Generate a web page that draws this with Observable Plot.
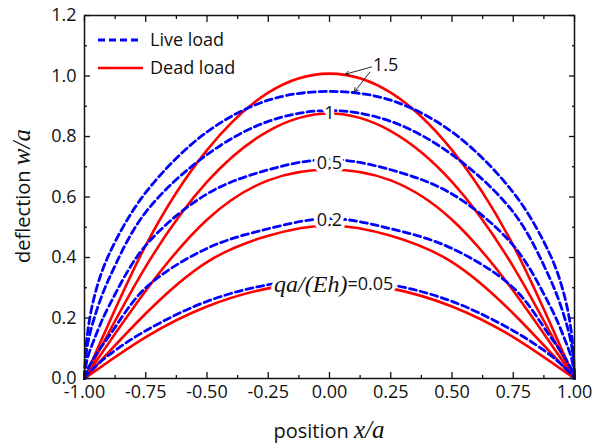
<!DOCTYPE html>
<html><head><meta charset="utf-8">
<script src="https://cdn.jsdelivr.net/npm/d3@7"></script>
<script src="https://cdn.jsdelivr.net/npm/@observablehq/plot@0.6"></script>
<style>
body{margin:0;background:#fff}
#chart{position:relative;width:605px;height:448px}
</style>
</head><body><div id="chart"></div>
<script>
// sample positions x/a
const xLive = [-1, -0.99, -0.96, -0.9, -0.75, -0.5, -0.25, 0, 0.25, 0.5, 0.75, 0.9, 0.96, 0.99, 1];
const xDead = [-1, -0.75, -0.5, -0.25, 0, 0.25, 0.5, 0.75, 1];

// Live load (blue dashed)
const live_1_5  = [0, 0.134, 0.27, 0.41, 0.615, 0.815, 0.92, 0.949, 0.92, 0.815, 0.615, 0.41, 0.27, 0.134, 0];
const live_1    = [0, 0.10, 0.20, 0.33, 0.55, 0.74, 0.85, 0.886, 0.85, 0.74, 0.55, 0.33, 0.20, 0.10, 0];
const live_0_5  = [0, 0.06, 0.13, 0.24, 0.44, 0.61, 0.69, 0.724, 0.69, 0.61, 0.44, 0.24, 0.13, 0.06, 0];
const live_0_2  = [0, 0.025, 0.07, 0.14, 0.30, 0.43, 0.495, 0.529, 0.495, 0.43, 0.30, 0.14, 0.07, 0.025, 0];
const live_0_05 = [0, 0.012, 0.036, 0.078, 0.158, 0.255, 0.31, 0.328, 0.31, 0.255, 0.158, 0.078, 0.036, 0.012, 0];

// Dead load (red solid)
const dead_1_5  = [0, 0.44, 0.755, 0.945, 1.008, 0.945, 0.755, 0.44, 0];
const dead_1    = [0, 0.37, 0.65, 0.818, 0.876, 0.818, 0.65, 0.37, 0];
const dead_0_5  = [0, 0.29, 0.525, 0.655, 0.691, 0.655, 0.525, 0.29, 0];
const dead_0_2  = [0, 0.215, 0.385, 0.472, 0.506, 0.472, 0.385, 0.215, 0];
const dead_0_05 = [0, 0.137, 0.238, 0.298, 0.318, 0.298, 0.238, 0.137, 0];

// ticks
const xTicks = [-1, -0.75, -0.5, -0.25, 0, 0.25, 0.5, 0.75, 1];
const xMinor = [-0.875, -0.625, -0.375, -0.125, 0.125, 0.375, 0.625, 0.875];
const yTicks = [0, 0.2, 0.4, 0.6, 0.8, 1.0, 1.2];
const yMinor = [0.1, 0.3, 0.5, 0.7, 0.9, 1.1];

// annotations (data units)
const levelLabels = [
  {x: 0, y: 0.878, text: "1"},
  {x: 0, y: 0.711, text: "0.5"},
  {x: 0, y: 0.522, text: "0.2"}
];
const topLabel = [{x: 0.229, y: 1.035, text: "1.5"}];
const arrows = [
  {x1: 0.172, y1: 1.030, x2: 0.065, y2: 1.006},
  {x1: 0.165, y1: 1.013, x2: 0.102, y2: 0.948}
];
const eqLabel = [{x: 0.073, y: 0.312, lhs: "qa/(Eh)", rhs: "=0.05"}];

const liveDefs = [["1.5", live_1_5], ["1", live_1], ["0.5", live_0_5], ["0.2", live_0_2], ["0.05", live_0_05]];
const deadDefs = [["1.5", dead_1_5], ["1", dead_1], ["0.5", dead_0_5], ["0.2", dead_0_2], ["0.05", dead_0_05]];
const liveRows = [], deadRows = [];
for (const [level, vals] of liveDefs) vals.forEach((v, i) => liveRows.push({level, x: xLive[i], y: v}));
for (const [level, vals] of deadDefs) vals.forEach((v, i) => deadRows.push({level, x: xDead[i], y: v}));

const FONT = "Open Sans, sans-serif";
const SERIF = "Liberation Serif, DejaVu Serif, serif";
const INK = "#111";
const blank = () => "";
const halo = {fill: "white", stroke: "white", strokeWidth: 7, strokeLinejoin: "round"};

const plot = Plot.plot({
  width: 605, height: 448,
  marginLeft: 84, marginRight: 31, marginTop: 15, marginBottom: 70,
  style: {fontFamily: FONT, fontSize: "18px", color: INK, background: "#fff"},
  x: {domain: [-1, 1], label: null},
  y: {domain: [0, 1.2], label: null},
  marks: [
    Plot.line(deadRows, {x: "x", y: "y", z: "level", stroke: "#ff0000", strokeWidth: 2.6, curve: "natural"}),
    Plot.line(liveRows, {x: "x", y: "y", z: "level", stroke: "#0000ff", strokeWidth: 2.8, strokeDasharray: "7,4", curve: "catmull-rom"}),
    // white knock-outs behind the curve labels
    Plot.text(levelLabels, {x: "x", y: "y", text: "text", fontSize: 18, ...halo}),
    Plot.text(eqLabel, {x: "x", y: "y", text: "lhs", textAnchor: "end", fontSize: 24, fontStyle: "italic", fontFamily: SERIF, ...halo}),
    Plot.text(eqLabel, {x: "x", y: "y", text: "rhs", textAnchor: "start", fontSize: 18, ...halo}),
    // labels
    Plot.text(levelLabels, {x: "x", y: "y", text: "text", fill: INK, fontSize: 18}),
    Plot.text(eqLabel, {x: "x", y: "y", text: "lhs", textAnchor: "end", fill: INK, fontSize: 24, fontStyle: "italic", fontFamily: SERIF}),
    Plot.text(eqLabel, {x: "x", y: "y", text: "rhs", textAnchor: "start", fill: INK, fontSize: 18}),
    Plot.text(topLabel, {x: "x", y: "y", text: "text", fill: INK, fontSize: 18}),
    Plot.arrow(arrows, {x1: "x1", y1: "y1", x2: "x2", y2: "y2", stroke: INK, strokeWidth: 0.9, headLength: 7}),
    // inward ticks, all four sides
    Plot.axisX(xTicks, {anchor: "bottom", tickSize: -6, tickFormat: blank, strokeWidth: 1.3}),
    Plot.axisX(xMinor, {anchor: "bottom", tickSize: -3, tickFormat: blank, strokeWidth: 1.3}),
    Plot.axisX(xTicks, {anchor: "top", tickSize: -6, tickFormat: blank, strokeWidth: 1.3}),
    Plot.axisX(xMinor, {anchor: "top", tickSize: -3, tickFormat: blank, strokeWidth: 1.3}),
    Plot.axisY(yTicks, {anchor: "left", tickSize: -6, tickFormat: blank, strokeWidth: 1.3}),
    Plot.axisY(yMinor, {anchor: "left", tickSize: -3, tickFormat: blank, strokeWidth: 1.3}),
    Plot.axisY(yTicks, {anchor: "right", tickSize: -6, tickFormat: blank, strokeWidth: 1.3}),
    Plot.axisY(yMinor, {anchor: "right", tickSize: -3, tickFormat: blank, strokeWidth: 1.3}),
    // tick labels
    Plot.axisX(xTicks, {anchor: "bottom", tickSize: 0, tickPadding: 7, tickFormat: d => d.toFixed(2), fontSize: 18, fill: INK}),
    Plot.axisY(yTicks, {anchor: "left", tickSize: 0, tickPadding: 8, tickFormat: d => d.toFixed(1), fontSize: 18, fill: INK}),
    Plot.frame({stroke: INK, strokeWidth: 1.5})
  ]
});

const root = document.getElementById("chart");
root.appendChild(plot);
const svg = d3.select(plot);

// axis titles
const xt = svg.append("text").attr("x", 329).attr("y", 438).attr("text-anchor", "middle")
  .attr("fill", INK).style("font-family", FONT).style("font-size", "20px");
xt.append("tspan").text("position ");
xt.append("tspan").style("font-family", SERIF).style("font-style", "italic").style("font-size", "25px").text("x/a");

const yt = svg.append("text").attr("transform", "translate(30,196) rotate(-90)").attr("text-anchor", "middle")
  .attr("fill", INK).style("font-family", FONT).style("font-size", "20px");
yt.append("tspan").text("deflection ");
yt.append("tspan").style("font-family", SERIF).style("font-style", "italic").style("font-size", "25px").text("w/a");

// legend
const leg = svg.append("g").style("font-family", FONT).style("font-size", "18px").attr("text-anchor", "start");
leg.append("line").attr("x1", 98).attr("x2", 141).attr("y1", 40).attr("y2", 40)
  .attr("stroke", "#0000ff").attr("stroke-width", 2.8).attr("stroke-dasharray", "7,4");
leg.append("text").attr("x", 150).attr("y", 40).attr("dy", "0.35em").attr("text-anchor", "start").attr("fill", INK).text("Live load");
leg.append("line").attr("x1", 98).attr("x2", 143).attr("y1", 68).attr("y2", 68)
  .attr("stroke", "#ff0000").attr("stroke-width", 2.6);
leg.append("text").attr("x", 150).attr("y", 68).attr("dy", "0.35em").attr("text-anchor", "start").attr("fill", INK).text("Dead load");
</script>
</body></html>
